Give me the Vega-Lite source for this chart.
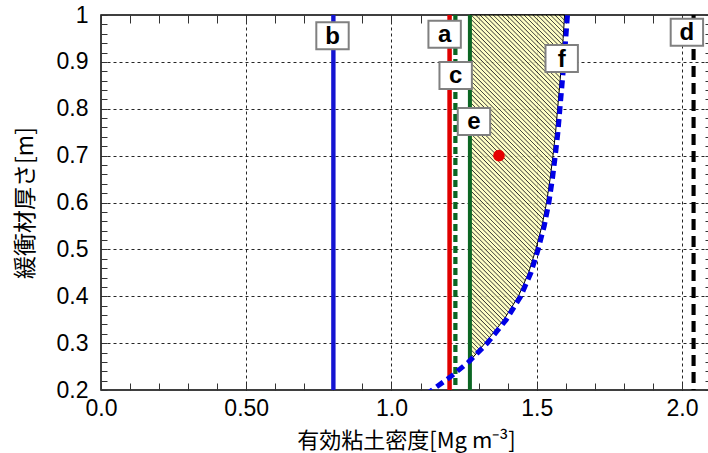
{
"$schema": "https://vega.github.io/schema/vega-lite/v6.json",
"width": 610, "height": 375,
"autosize": "none",
"padding": {"left": 101, "top": 15, "right": 0, "bottom": 63},
"background": "white",
"config": {"view": {"stroke": "#000", "strokeWidth": 1.5}},
"datasets": {
"region": [{"t":0.262,"xr":1.27},{"t":0.28,"xr":1.295},{"t":0.3,"xr":1.322},{"t":0.35,"xr":1.387},{"t":0.4,"xr":1.437},{"t":0.45,"xr":1.472},{"t":0.5,"xr":1.497},{"t":0.55,"xr":1.518},{"t":0.6,"xr":1.534},{"t":0.65,"xr":1.546},{"t":0.7,"xr":1.556},{"t":0.75,"xr":1.565},{"t":0.8,"xr":1.572},{"t":0.85,"xr":1.579},{"t":0.9,"xr":1.586},{"t":0.95,"xr":1.591},{"t":1.0,"xr":1.596}],
"vlines": [{"k":"b","x":0.8},{"k":"a","x":1.2},{"k":"c","x":1.22},{"k":"e","x":1.27},{"k":"d","x":2.04}],
"fcurve": [{"i":0,"x":1.12,"t":0.19},{"i":1,"x":1.14,"t":0.2},{"i":2,"x":1.203,"t":0.228},{"i":3,"x":1.266,"t":0.26},{"i":4,"x":1.33,"t":0.3},{"i":5,"x":1.395,"t":0.35},{"i":6,"x":1.445,"t":0.4},{"i":7,"x":1.48,"t":0.45},{"i":8,"x":1.505,"t":0.5},{"i":9,"x":1.526,"t":0.55},{"i":10,"x":1.542,"t":0.6},{"i":11,"x":1.554,"t":0.65},{"i":12,"x":1.564,"t":0.7},{"i":13,"x":1.573,"t":0.75},{"i":14,"x":1.58,"t":0.8},{"i":15,"x":1.587,"t":0.85},{"i":16,"x":1.594,"t":0.9},{"i":17,"x":1.6,"t":0.95},{"i":18,"x":1.606,"t":1.0}],
"labels": [{"k":"a","x":1.183,"t":0.959},{"k":"b","x":0.797,"t":0.956},{"k":"c","x":1.221,"t":0.871},{"k":"d","x":2.017,"t":0.963},{"k":"e","x":1.284,"t":0.773},{"k":"f","x":1.586,"t":0.907}],
"dot": [{"x":1.37,"t":0.7}]
},
"resolve": {"axis": {"x": "independent", "y": "independent"}},
"layer": [
{
"data": {"name": "region"},
"mark": {"type": "area", "orient": "horizontal", "fillOpacity": 0.85, "stroke": "#000", "strokeWidth": 1,
"fill": {"gradient": "linear", "x1": 0, "y1": 1, "x2": 0.3245, "y2": -0.185, "stops": [
{"offset":0,"color":"#ffb"},{"offset":0.0055,"color":"#ffb"},{"offset":0.008,"color":"#111"},
{"offset":0.01,"color":"#ffb"},{"offset":0.0155,"color":"#ffb"},{"offset":0.018,"color":"#111"},
{"offset":0.02,"color":"#ffb"},{"offset":0.0255,"color":"#ffb"},{"offset":0.028,"color":"#111"},
{"offset":0.03,"color":"#ffb"},{"offset":0.0355,"color":"#ffb"},{"offset":0.038,"color":"#111"},
{"offset":0.04,"color":"#ffb"},{"offset":0.0455,"color":"#ffb"},{"offset":0.048,"color":"#111"},
{"offset":0.05,"color":"#ffb"},{"offset":0.0555,"color":"#ffb"},{"offset":0.058,"color":"#111"},
{"offset":0.06,"color":"#ffb"},{"offset":0.0655,"color":"#ffb"},{"offset":0.068,"color":"#111"},
{"offset":0.07,"color":"#ffb"},{"offset":0.0755,"color":"#ffb"},{"offset":0.078,"color":"#111"},
{"offset":0.08,"color":"#ffb"},{"offset":0.0855,"color":"#ffb"},{"offset":0.088,"color":"#111"},
{"offset":0.09,"color":"#ffb"},{"offset":0.0955,"color":"#ffb"},{"offset":0.098,"color":"#111"},
{"offset":0.10,"color":"#ffb"},{"offset":0.1055,"color":"#ffb"},{"offset":0.108,"color":"#111"},
{"offset":0.11,"color":"#ffb"},{"offset":0.1155,"color":"#ffb"},{"offset":0.118,"color":"#111"},
{"offset":0.12,"color":"#ffb"},{"offset":0.1255,"color":"#ffb"},{"offset":0.128,"color":"#111"},
{"offset":0.13,"color":"#ffb"},{"offset":0.1355,"color":"#ffb"},{"offset":0.138,"color":"#111"},
{"offset":0.14,"color":"#ffb"},{"offset":0.1455,"color":"#ffb"},{"offset":0.148,"color":"#111"},
{"offset":0.15,"color":"#ffb"},{"offset":0.1555,"color":"#ffb"},{"offset":0.158,"color":"#111"},
{"offset":0.16,"color":"#ffb"},{"offset":0.1655,"color":"#ffb"},{"offset":0.168,"color":"#111"},
{"offset":0.17,"color":"#ffb"},{"offset":0.1755,"color":"#ffb"},{"offset":0.178,"color":"#111"},
{"offset":0.18,"color":"#ffb"},{"offset":0.1855,"color":"#ffb"},{"offset":0.188,"color":"#111"},
{"offset":0.19,"color":"#ffb"},{"offset":0.1955,"color":"#ffb"},{"offset":0.198,"color":"#111"},
{"offset":0.20,"color":"#ffb"},{"offset":0.2055,"color":"#ffb"},{"offset":0.208,"color":"#111"},
{"offset":0.21,"color":"#ffb"},{"offset":0.2155,"color":"#ffb"},{"offset":0.218,"color":"#111"},
{"offset":0.22,"color":"#ffb"},{"offset":0.2255,"color":"#ffb"},{"offset":0.228,"color":"#111"},
{"offset":0.23,"color":"#ffb"},{"offset":0.2355,"color":"#ffb"},{"offset":0.238,"color":"#111"},
{"offset":0.24,"color":"#ffb"},{"offset":0.2455,"color":"#ffb"},{"offset":0.248,"color":"#111"},
{"offset":0.25,"color":"#ffb"},{"offset":0.2555,"color":"#ffb"},{"offset":0.258,"color":"#111"},
{"offset":0.26,"color":"#ffb"},{"offset":0.2655,"color":"#ffb"},{"offset":0.268,"color":"#111"},
{"offset":0.27,"color":"#ffb"},{"offset":0.2755,"color":"#ffb"},{"offset":0.278,"color":"#111"},
{"offset":0.28,"color":"#ffb"},{"offset":0.2855,"color":"#ffb"},{"offset":0.288,"color":"#111"},
{"offset":0.29,"color":"#ffb"},{"offset":0.2955,"color":"#ffb"},{"offset":0.298,"color":"#111"},
{"offset":0.30,"color":"#ffb"},{"offset":0.3055,"color":"#ffb"},{"offset":0.308,"color":"#111"},
{"offset":0.31,"color":"#ffb"},{"offset":0.3155,"color":"#ffb"},{"offset":0.318,"color":"#111"},
{"offset":0.32,"color":"#ffb"},{"offset":0.3255,"color":"#ffb"},{"offset":0.328,"color":"#111"},
{"offset":0.33,"color":"#ffb"},{"offset":0.3355,"color":"#ffb"},{"offset":0.338,"color":"#111"},
{"offset":0.34,"color":"#ffb"},{"offset":0.3455,"color":"#ffb"},{"offset":0.348,"color":"#111"},
{"offset":0.35,"color":"#ffb"},{"offset":0.3555,"color":"#ffb"},{"offset":0.358,"color":"#111"},
{"offset":0.36,"color":"#ffb"},{"offset":0.3655,"color":"#ffb"},{"offset":0.368,"color":"#111"},
{"offset":0.37,"color":"#ffb"},{"offset":0.3755,"color":"#ffb"},{"offset":0.378,"color":"#111"},
{"offset":0.38,"color":"#ffb"},{"offset":0.3855,"color":"#ffb"},{"offset":0.388,"color":"#111"},
{"offset":0.39,"color":"#ffb"},{"offset":0.3955,"color":"#ffb"},{"offset":0.398,"color":"#111"},
{"offset":0.40,"color":"#ffb"},{"offset":0.4055,"color":"#ffb"},{"offset":0.408,"color":"#111"},
{"offset":0.41,"color":"#ffb"},{"offset":0.4155,"color":"#ffb"},{"offset":0.418,"color":"#111"},
{"offset":0.42,"color":"#ffb"},{"offset":0.4255,"color":"#ffb"},{"offset":0.428,"color":"#111"},
{"offset":0.43,"color":"#ffb"},{"offset":0.4355,"color":"#ffb"},{"offset":0.438,"color":"#111"},
{"offset":0.44,"color":"#ffb"},{"offset":0.4455,"color":"#ffb"},{"offset":0.448,"color":"#111"},
{"offset":0.45,"color":"#ffb"},{"offset":0.4555,"color":"#ffb"},{"offset":0.458,"color":"#111"},
{"offset":0.46,"color":"#ffb"},{"offset":0.4655,"color":"#ffb"},{"offset":0.468,"color":"#111"},
{"offset":0.47,"color":"#ffb"},{"offset":0.4755,"color":"#ffb"},{"offset":0.478,"color":"#111"},
{"offset":0.48,"color":"#ffb"},{"offset":0.4855,"color":"#ffb"},{"offset":0.488,"color":"#111"},
{"offset":0.49,"color":"#ffb"},{"offset":0.4955,"color":"#ffb"},{"offset":0.498,"color":"#111"},
{"offset":0.50,"color":"#ffb"},{"offset":0.5055,"color":"#ffb"},{"offset":0.508,"color":"#111"},
{"offset":0.51,"color":"#ffb"},{"offset":0.5155,"color":"#ffb"},{"offset":0.518,"color":"#111"},
{"offset":0.52,"color":"#ffb"},{"offset":0.5255,"color":"#ffb"},{"offset":0.528,"color":"#111"},
{"offset":0.53,"color":"#ffb"},{"offset":0.5355,"color":"#ffb"},{"offset":0.538,"color":"#111"},
{"offset":0.54,"color":"#ffb"},{"offset":0.5455,"color":"#ffb"},{"offset":0.548,"color":"#111"},
{"offset":0.55,"color":"#ffb"},{"offset":0.5555,"color":"#ffb"},{"offset":0.558,"color":"#111"},
{"offset":0.56,"color":"#ffb"},{"offset":0.5655,"color":"#ffb"},{"offset":0.568,"color":"#111"},
{"offset":0.57,"color":"#ffb"},{"offset":0.5755,"color":"#ffb"},{"offset":0.578,"color":"#111"},
{"offset":0.58,"color":"#ffb"},{"offset":0.5855,"color":"#ffb"},{"offset":0.588,"color":"#111"},
{"offset":0.59,"color":"#ffb"},{"offset":0.5955,"color":"#ffb"},{"offset":0.598,"color":"#111"},
{"offset":0.60,"color":"#ffb"},{"offset":0.6055,"color":"#ffb"},{"offset":0.608,"color":"#111"},
{"offset":0.61,"color":"#ffb"},{"offset":0.6155,"color":"#ffb"},{"offset":0.618,"color":"#111"},
{"offset":0.62,"color":"#ffb"},{"offset":0.6255,"color":"#ffb"},{"offset":0.628,"color":"#111"},
{"offset":0.63,"color":"#ffb"},{"offset":0.6355,"color":"#ffb"},{"offset":0.638,"color":"#111"},
{"offset":0.64,"color":"#ffb"},{"offset":0.6455,"color":"#ffb"},{"offset":0.648,"color":"#111"},
{"offset":0.65,"color":"#ffb"},{"offset":0.6555,"color":"#ffb"},{"offset":0.658,"color":"#111"},
{"offset":0.66,"color":"#ffb"},{"offset":0.6655,"color":"#ffb"},{"offset":0.668,"color":"#111"},
{"offset":0.67,"color":"#ffb"},{"offset":0.6755,"color":"#ffb"},{"offset":0.678,"color":"#111"},
{"offset":0.68,"color":"#ffb"},{"offset":0.6855,"color":"#ffb"},{"offset":0.688,"color":"#111"},
{"offset":0.69,"color":"#ffb"},{"offset":0.6955,"color":"#ffb"},{"offset":0.698,"color":"#111"},
{"offset":0.70,"color":"#ffb"},{"offset":0.7055,"color":"#ffb"},{"offset":0.708,"color":"#111"},
{"offset":0.71,"color":"#ffb"},{"offset":0.7155,"color":"#ffb"},{"offset":0.718,"color":"#111"},
{"offset":0.72,"color":"#ffb"},{"offset":0.7255,"color":"#ffb"},{"offset":0.728,"color":"#111"},
{"offset":0.73,"color":"#ffb"},{"offset":0.7355,"color":"#ffb"},{"offset":0.738,"color":"#111"},
{"offset":0.74,"color":"#ffb"},{"offset":0.7455,"color":"#ffb"},{"offset":0.748,"color":"#111"},
{"offset":0.75,"color":"#ffb"},{"offset":0.7555,"color":"#ffb"},{"offset":0.758,"color":"#111"},
{"offset":0.76,"color":"#ffb"},{"offset":0.7655,"color":"#ffb"},{"offset":0.768,"color":"#111"},
{"offset":0.77,"color":"#ffb"},{"offset":0.7755,"color":"#ffb"},{"offset":0.778,"color":"#111"},
{"offset":0.78,"color":"#ffb"},{"offset":0.7855,"color":"#ffb"},{"offset":0.788,"color":"#111"},
{"offset":0.79,"color":"#ffb"},{"offset":0.7955,"color":"#ffb"},{"offset":0.798,"color":"#111"},
{"offset":0.80,"color":"#ffb"},{"offset":0.8055,"color":"#ffb"},{"offset":0.808,"color":"#111"},
{"offset":0.81,"color":"#ffb"},{"offset":0.8155,"color":"#ffb"},{"offset":0.818,"color":"#111"},
{"offset":0.82,"color":"#ffb"},{"offset":0.8255,"color":"#ffb"},{"offset":0.828,"color":"#111"},
{"offset":0.83,"color":"#ffb"},{"offset":0.8355,"color":"#ffb"},{"offset":0.838,"color":"#111"},
{"offset":0.84,"color":"#ffb"},{"offset":0.8455,"color":"#ffb"},{"offset":0.848,"color":"#111"},
{"offset":0.85,"color":"#ffb"},{"offset":0.8555,"color":"#ffb"},{"offset":0.858,"color":"#111"},
{"offset":0.86,"color":"#ffb"},{"offset":0.8655,"color":"#ffb"},{"offset":0.868,"color":"#111"},
{"offset":0.87,"color":"#ffb"},{"offset":0.8755,"color":"#ffb"},{"offset":0.878,"color":"#111"},
{"offset":0.88,"color":"#ffb"},{"offset":0.8855,"color":"#ffb"},{"offset":0.888,"color":"#111"},
{"offset":0.89,"color":"#ffb"},{"offset":0.8955,"color":"#ffb"},{"offset":0.898,"color":"#111"},
{"offset":0.90,"color":"#ffb"},{"offset":0.9055,"color":"#ffb"},{"offset":0.908,"color":"#111"},
{"offset":0.91,"color":"#ffb"},{"offset":0.9155,"color":"#ffb"},{"offset":0.918,"color":"#111"},
{"offset":0.92,"color":"#ffb"},{"offset":0.9255,"color":"#ffb"},{"offset":0.928,"color":"#111"},
{"offset":0.93,"color":"#ffb"},{"offset":0.9355,"color":"#ffb"},{"offset":0.938,"color":"#111"},
{"offset":0.94,"color":"#ffb"},{"offset":0.9455,"color":"#ffb"},{"offset":0.948,"color":"#111"},
{"offset":0.95,"color":"#ffb"},{"offset":0.9555,"color":"#ffb"},{"offset":0.958,"color":"#111"},
{"offset":0.96,"color":"#ffb"},{"offset":0.9655,"color":"#ffb"},{"offset":0.968,"color":"#111"},
{"offset":0.97,"color":"#ffb"},{"offset":0.9755,"color":"#ffb"},{"offset":0.978,"color":"#111"},
{"offset":0.98,"color":"#ffb"},{"offset":0.9855,"color":"#ffb"},{"offset":0.988,"color":"#111"},
{"offset":0.99,"color":"#ffb"},{"offset":0.9955,"color":"#ffb"},{"offset":0.998,"color":"#111"},
{"offset":1,"color":"#ffb"}
]}},
"encoding": {
"y": {"field": "t", "type": "quantitative", "scale": {"domain": [0.2, 1], "nice": false, "zero": false},
 "axis": {"orient": "left", "values": [0.2,0.22,0.24,0.26,0.28,0.3,0.32,0.34,0.36,0.38,0.4,0.42,0.44,0.46,0.48,0.5,0.52,0.54,0.56,0.58,0.6,0.62,0.64,0.66,0.68,0.7,0.72,0.74,0.76,0.78,0.8,0.82,0.84,0.86,0.88,0.9,0.92,0.94,0.96,0.98,1],
  "labelExpr": "indexof([0.2,0.3,0.4,0.5,0.6,0.7,0.8,0.9],datum.value)>=0 ? format(datum.value,'.1f') : (datum.value==1 ? '1' : '')",
  "tickSize": -6, "tickColor": "#333", "tickWidth": 1, "domain": false,
  "grid": true, "gridColor": "#000", "gridWidth": 1, "gridDash": [3, 3],
  "gridOpacity": {"condition": {"test": "indexof([0.3,0.4,0.5,0.6,0.7,0.8,0.9],datum.value)>=0", "value": 0.85}, "value": 0},
  "labelFont": "Liberation Sans", "labelFontSize": 23, "labelColor": "#000", "labelPadding": 19, "labelOverlap": false, "labelBound": false, "labelFlush": false,
  "title": "緩衝材厚さ[m]", "titleFont": "Noto Sans CJK JP", "titleFontSize": 23, "titleFontWeight": "normal", "titleColor": "#000",
  "titleX": -76, "titleY": 187.5, "titleAngle": 270, "titleAlign": "center", "titleBaseline": "middle"}},
"x": {"field": "xr", "type": "quantitative", "scale": {"domain": [0, 2.1], "nice": false, "zero": false},
 "axis": {"orient": "bottom", "values": [0,0.1,0.2,0.3,0.4,0.5,0.6,0.7,0.8,0.9,1,1.1,1.2,1.3,1.4,1.5,1.6,1.7,1.8,1.9,2,2.1],
  "labelExpr": "datum.value==0?'0.0':datum.value==0.5?'0.50':datum.value==1?'1.0':datum.value==1.5?'1.5':datum.value==2?'2.0':''",
  "tickSize": -7, "tickColor": "#333", "tickWidth": 1, "domain": false,
  "grid": true, "gridColor": "#000", "gridWidth": 1, "gridDash": [3, 3],
  "gridOpacity": {"condition": {"test": "datum.value==0.5||datum.value==1||datum.value==1.5||datum.value==2", "value": 0.85}, "value": 0},
  "labelFont": "Liberation Sans", "labelFontSize": 23, "labelColor": "#000", "labelPadding": 14, "labelOverlap": false, "labelBound": false, "labelFlush": false,
  "title": "有効粘土密度[Mg m⁻³]", "titleFont": "Noto Sans CJK JP", "titleFontSize": 22, "titleFontWeight": "normal", "titleColor": "#000",
  "titleY": 50, "titleBaseline": "middle"}},
"x2": {"datum": 1.27}
}
},
{
"data": {"name": "vlines"},
"mark": {"type": "rule"},
"encoding": {
"x": {"field": "x", "type": "quantitative", "scale": {"domain": [0, 2.1], "nice": false, "zero": false}, "axis": null},
"color": {"field": "k", "type": "nominal", "scale": {"domain": ["a","b","c","d","e"], "range": ["#e00000","#1414d2","#0b6623","#000000","#0b6623"]}, "legend": null},
"strokeDash": {"field": "k", "type": "nominal", "scale": {"domain": ["a","b","c","d","e"], "range": [[1,0],[1,0],[7,4],[11,6],[1,0]]}, "legend": null},
"strokeWidth": {"field": "k", "type": "nominal", "scale": {"domain": ["a","b","c","d","e"], "range": [4.5,4,4,4.5,3.5]}, "legend": null}
}
},
{
"data": {"name": "fcurve"},
"mark": {"type": "line", "stroke": "#0000e6", "strokeWidth": 5, "strokeDash": [8, 5], "clip": true},
"encoding": {
"x": {"field": "x", "type": "quantitative", "scale": {"domain": [0, 2.1], "nice": false, "zero": false}, "axis": null},
"y": {"field": "t", "type": "quantitative", "scale": {"domain": [0.2, 1], "nice": false, "zero": false}, "axis": null},
"order": {"field": "i", "type": "quantitative"}
}
},
{
"data": {"name": "labels"},
"mark": {"type": "point", "shape": "M-1.2,-1H1.2V1H-1.2Z", "size": 729, "filled": true, "fill": "#fff", "stroke": "#808080", "strokeWidth": 2, "opacity": 1, "fillOpacity": 1, "strokeOpacity": 1},
"encoding": {
"x": {"field": "x", "type": "quantitative", "scale": {"domain": [0, 2.1], "nice": false, "zero": false}, "axis": null},
"y": {"field": "t", "type": "quantitative", "scale": {"domain": [0.2, 1], "nice": false, "zero": false}, "axis": null}
}
},
{
"data": {"name": "labels"},
"mark": {"type": "text", "font": "Liberation Sans", "fontWeight": "bold", "fontSize": 24, "color": "#000", "align": "center", "baseline": "middle", "dy": 1},
"encoding": {
"x": {"field": "x", "type": "quantitative", "scale": {"domain": [0, 2.1], "nice": false, "zero": false}, "axis": null},
"y": {"field": "t", "type": "quantitative", "scale": {"domain": [0.2, 1], "nice": false, "zero": false}, "axis": null},
"text": {"field": "k"}
}
},
{
"data": {"name": "dot"},
"mark": {"type": "point", "shape": "circle", "filled": true, "color": "#e60000", "size": 135, "opacity": 1},
"encoding": {
"x": {"field": "x", "type": "quantitative", "scale": {"domain": [0, 2.1], "nice": false, "zero": false},
 "axis": {"orient": "top", "values": [0,0.1,0.2,0.3,0.4,0.5,0.6,0.7,0.8,0.9,1,1.1,1.2,1.3,1.4,1.5,1.6,1.7,1.8,1.9,2,2.1], "labels": false, "grid": false, "domain": false, "tickSize": -8, "tickColor": "#333", "tickWidth": 1, "title": null}},
"y": {"field": "t", "type": "quantitative", "scale": {"domain": [0.2, 1], "nice": false, "zero": false},
 "axis": {"orient": "right", "values": [0.2,0.22,0.24,0.26,0.28,0.3,0.32,0.34,0.36,0.38,0.4,0.42,0.44,0.46,0.48,0.5,0.52,0.54,0.56,0.58,0.6,0.62,0.64,0.66,0.68,0.7,0.72,0.74,0.76,0.78,0.8,0.82,0.84,0.86,0.88,0.9,0.92,0.94,0.96,0.98,1], "labels": false, "grid": false, "domain": false, "tickSize": -6, "tickColor": "#333", "tickWidth": 1, "title": null}}
}
}
]
}
